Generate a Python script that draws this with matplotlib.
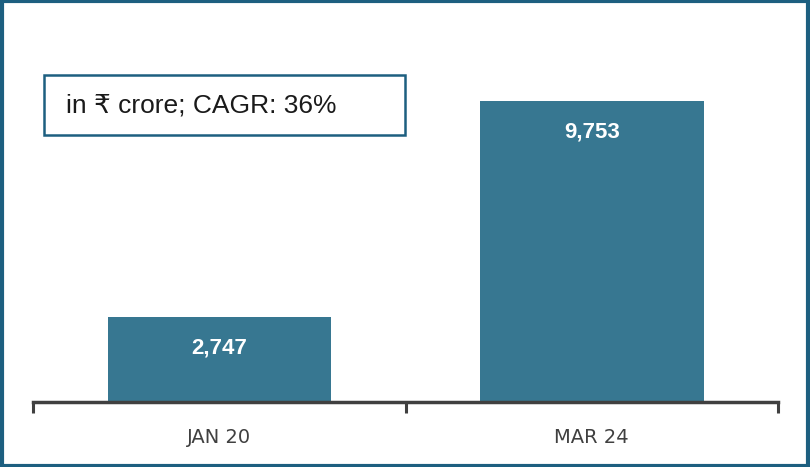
"""Bar chart: value in INR crore, Jan 20 vs Mar 24."""

import matplotlib
matplotlib.use("Agg")
import matplotlib.pyplot as plt
from matplotlib.patches import Rectangle

# Data
categories = ["JAN 20", "MAR 24"]
values = [2747, 9753]
note = "in \u20b9 crore; CAGR: 36%"

bar_color = "#377791"
frame_color = "#1d5f80"
axis_color = "#404040"

fig = plt.figure(figsize=(8.1, 4.67), dpi=100)
ax = fig.add_axes([33 / 810, 1 - 402 / 467, 745 / 810, 324 / 467])

x = range(len(categories))
bars = ax.bar(x, values, width=0.6, color=bar_color, zorder=2)

for b, v in zip(bars, values):
    ax.text(b.get_x() + b.get_width() / 2, v - 1000, f"{v:,}",
            ha="center", va="center", color="white", fontsize=16,
            fontweight="bold", family=["Liberation Sans", "DejaVu Sans"])

ax.set_xlim(-0.5, len(categories) - 0.5)
ax.set_ylim(0, 10500)

# category boundary ticks, labels centred
ax.set_xticks([-0.5, 0.5, 1.5])
ax.set_xticklabels([])
ax.tick_params(axis="x", direction="out", length=8, width=2.2, color=axis_color)
ax.set_yticks([])
for i, c in enumerate(categories):
    ax.text(i, -0.11, c, transform=ax.get_xaxis_transform(), ha="center",
            va="center", fontsize=14, color=axis_color,
            family=["DejaVu Sans"])

for s in ["top", "right", "left"]:
    ax.spines[s].set_visible(False)
ax.spines["bottom"].set_color(axis_color)
ax.spines["bottom"].set_linewidth(2.5)
ax.spines["bottom"].set_zorder(3)

# note box
fig.patches.append(Rectangle((44 / 810, 1 - 135 / 467), 361 / 810, 60 / 467,
                             transform=fig.transFigure, fill=False,
                             edgecolor=frame_color, linewidth=1.8))
fig.text(66 / 810, 1 - 105 / 467, note, ha="left", va="center", fontsize=19,
         color="#1a1a1a", family=["Liberation Sans", "DejaVu Sans"])

# outer frame
fig.patches.append(Rectangle((0.002, 0.003), 0.996, 0.994,
                             transform=fig.transFigure, fill=False,
                             edgecolor=frame_color, linewidth=3))

fig.savefig("out.png", dpi=100)
